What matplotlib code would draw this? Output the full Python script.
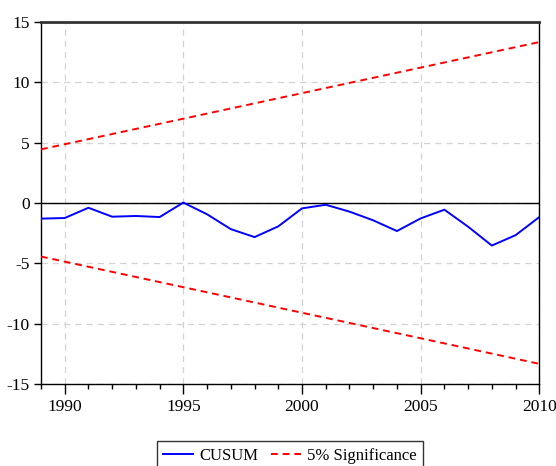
import matplotlib
matplotlib.use('Agg')
from matplotlib import pyplot as plt
from matplotlib.ticker import MultipleLocator

# CUSUM test values
years = list(range(1989, 2011))
cusum = [-1.30, -1.25, -0.40, -1.14, -1.08, -1.17, 0.03, -0.94, -2.17, -2.83, -1.94,
         -0.45, -0.15, -0.72, -1.44, -2.33, -1.28, -0.56, -1.97, -3.53, -2.67, -1.17]

# 5% significance bounds (straight lines, end points only)
bound_years = [1989, 2010]
upper_bound = [4.44, 13.33]
lower_bound = [-4.44, -13.33]

x_ticks = [1990, 1995, 2000, 2005, 2010]
y_ticks = [-15, -10, -5, 0, 5, 10, 15]

plt.rcParams['font.family'] = ['Liberation Serif', 'DejaVu Serif']
plt.rcParams['axes.unicode_minus'] = False

fig = plt.figure(figsize=(5.56, 4.66), dpi=100)
ax = fig.add_axes([0.0737, 0.176, 0.8963, 0.777])

ax.plot(years, cusum, color='#0000ff', lw=1.4, label='CUSUM', zorder=3)
ax.plot(bound_years, upper_bound, color='#ff0000', lw=1.4, ls=(0, (3.5, 2.5)),
        label='5% Significance', zorder=3)
ax.plot(bound_years, lower_bound, color='#ff0000', lw=1.4, ls=(0, (3.5, 2.5)), zorder=3)
ax.axhline(0, color='black', lw=1.0, zorder=2)

ax.set_xlim(1989, 2010)
ax.set_ylim(-15, 15)
ax.set_xticks(x_ticks)
ax.set_yticks(y_ticks)
ax.xaxis.set_minor_locator(MultipleLocator(1))

ax.grid(True, which='major', color='#d3d3d3', ls=(0, (5, 4)), lw=0.9)
ax.set_axisbelow(True)

ax.tick_params(axis='both', which='major', direction='out', length=5, width=1,
               labelsize=12.5, colors='black')
ax.tick_params(axis='x', which='minor', direction='out', length=3.5, width=1)
ax.tick_params(axis='x', which='major', length=7, pad=4)
ax.tick_params(axis='y', which='major', pad=3)

for side in ['left', 'bottom', 'right']:
    ax.spines[side].set_linewidth(1.0)
ax.spines['top'].set_linewidth(2.0)
ax.spines['top'].set_color('#333333')

leg = fig.legend(loc='upper center', bbox_to_anchor=(0.5216, 0.054), ncol=2,
                 fontsize=12, frameon=True, fancybox=False, edgecolor='black',
                 handlelength=1.8, handletextpad=0.4, columnspacing=0.7,
                 borderpad=0.4, borderaxespad=0)
leg.get_frame().set_linewidth(1.0)

fig.savefig('out.png', dpi=100)
